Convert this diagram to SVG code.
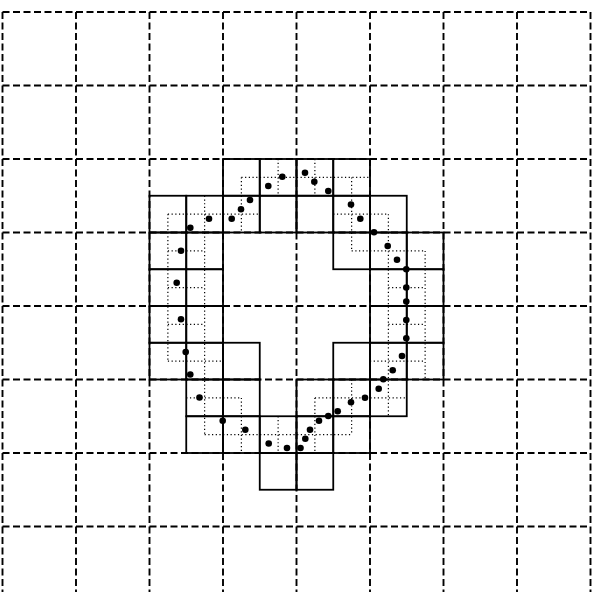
<svg xmlns="http://www.w3.org/2000/svg" width="597" height="592" viewBox="0 0 597 592">
<style>
.grid{stroke:#000;stroke-width:1.9;stroke-dasharray:7 3.5;fill:none}
.cell{stroke:#000;stroke-width:1.8;fill:none}
.sub{stroke:#000;stroke-width:1.2;stroke-dasharray:1.2 2.5;fill:none}
.pt{fill:#000}
</style>
<rect width="597" height="592" fill="#fff"/>
<g id="grid" class="grid">
<path d="M2.5 12V592M76 12V592M149.5 12V592M223 12V592M296.5 12V592M370 12V592M443.5 12V592M517 12V592M590.5 12V592"/>
<path d="M2.5 12H590.5M2.5 85.5H590.5M2.5 159H590.5M2.5 232.5H590.5M2.5 306H590.5M2.5 379.5H590.5M2.5 453H590.5M2.5 526.5H590.5"/>
</g>
<g id="cells" class="cell">
<rect x="223" y="159" width="36.75" height="36.75"/>
<rect x="259.75" y="159" width="36.75" height="36.75"/>
<rect x="296.5" y="159" width="36.75" height="36.75"/>
<rect x="333.25" y="159" width="36.75" height="36.75"/>
<rect x="149.5" y="195.75" width="36.75" height="36.75"/>
<rect x="186.25" y="195.75" width="36.75" height="36.75"/>
<rect x="223" y="195.75" width="36.75" height="36.75"/>
<rect x="259.75" y="195.75" width="36.75" height="36.75"/>
<rect x="296.5" y="195.75" width="36.75" height="36.75"/>
<rect x="333.25" y="195.75" width="36.75" height="36.75"/>
<rect x="370" y="195.75" width="36.75" height="36.75"/>
<rect x="149.5" y="232.5" width="36.75" height="36.75"/>
<rect x="186.25" y="232.5" width="36.75" height="36.75"/>
<rect x="333.25" y="232.5" width="36.75" height="36.75"/>
<rect x="370" y="232.5" width="36.75" height="36.75"/>
<rect x="406.75" y="232.5" width="36.75" height="36.75"/>
<rect x="149.5" y="269.25" width="36.75" height="36.75"/>
<rect x="186.25" y="269.25" width="36.75" height="36.75"/>
<rect x="370" y="269.25" width="36.75" height="36.75"/>
<rect x="406.75" y="269.25" width="36.75" height="36.75"/>
<rect x="149.5" y="306" width="36.75" height="36.75"/>
<rect x="186.25" y="306" width="36.75" height="36.75"/>
<rect x="370" y="306" width="36.75" height="36.75"/>
<rect x="406.75" y="306" width="36.75" height="36.75"/>
<rect x="149.5" y="342.75" width="36.75" height="36.75"/>
<rect x="186.25" y="342.75" width="36.75" height="36.75"/>
<rect x="223" y="342.75" width="36.75" height="36.75"/>
<rect x="333.25" y="342.75" width="36.75" height="36.75"/>
<rect x="370" y="342.75" width="36.75" height="36.75"/>
<rect x="406.75" y="342.75" width="36.75" height="36.75"/>
<rect x="186.25" y="379.5" width="36.75" height="36.75"/>
<rect x="223" y="379.5" width="36.75" height="36.75"/>
<rect x="296.5" y="379.5" width="36.75" height="36.75"/>
<rect x="333.25" y="379.5" width="36.75" height="36.75"/>
<rect x="370" y="379.5" width="36.75" height="36.75"/>
<rect x="186.25" y="416.25" width="36.75" height="36.75"/>
<rect x="223" y="416.25" width="36.75" height="36.75"/>
<rect x="259.75" y="416.25" width="36.75" height="36.75"/>
<rect x="296.5" y="416.25" width="36.75" height="36.75"/>
<rect x="333.25" y="416.25" width="36.75" height="36.75"/>
<rect x="259.75" y="453" width="36.75" height="36.75"/>
<rect x="296.5" y="453" width="36.75" height="36.75"/>
</g>
<g id="subcells" class="sub">
<path d="M167.875 214.125V361.125M204.625 195.75V434.625M241.375 177.375V232.5M241.375 397.875V453M278.125 159V195.75M278.125 416.25V453M314.875 159V195.75M314.875 397.875V453M351.625 177.375V250.875M351.625 379.5V434.625M388.375 214.125V416.25M425.125 250.875V379.5"/>
<path d="M241.375 177.375H370M167.875 214.125H259.75M333.25 214.125H388.375M167.875 250.875H204.625M351.625 250.875H425.125M167.875 287.625H204.625M388.375 287.625H425.125M167.875 324.375H204.625M388.375 324.375H425.125M167.875 361.125H223M370 361.125H425.125M186.25 397.875H241.375M314.875 397.875H406.75M204.625 434.625H351.625"/>
</g>
<g id="points" class="pt">
<circle cx="282.3" cy="176.7" r="3.3"/>
<circle cx="268.3" cy="186" r="3.3"/>
<circle cx="305" cy="172.7" r="3.3"/>
<circle cx="314.3" cy="181.7" r="3.3"/>
<circle cx="328.3" cy="191" r="3.3"/>
<circle cx="250" cy="200" r="3.3"/>
<circle cx="241" cy="209.3" r="3.3"/>
<circle cx="231.7" cy="218.7" r="3.3"/>
<circle cx="209" cy="218.7" r="3.3"/>
<circle cx="190.3" cy="227.7" r="3.3"/>
<circle cx="181" cy="250.7" r="3.3"/>
<circle cx="176.7" cy="282.7" r="3.3"/>
<circle cx="181" cy="319.3" r="3.3"/>
<circle cx="185.7" cy="352" r="3.3"/>
<circle cx="190.3" cy="374.5" r="3.3"/>
<circle cx="199.5" cy="397.5" r="3.3"/>
<circle cx="222.7" cy="420.7" r="3.3"/>
<circle cx="245.3" cy="429.8" r="3.3"/>
<circle cx="268.7" cy="443.5" r="3.3"/>
<circle cx="287" cy="448" r="3.3"/>
<circle cx="300.5" cy="448" r="3.3"/>
<circle cx="305.3" cy="438.8" r="3.3"/>
<circle cx="310" cy="429.7" r="3.3"/>
<circle cx="319" cy="420.7" r="3.3"/>
<circle cx="328.3" cy="416" r="3.3"/>
<circle cx="337.7" cy="411.3" r="3.3"/>
<circle cx="351" cy="402.3" r="3.3"/>
<circle cx="365" cy="397.7" r="3.3"/>
<circle cx="378.7" cy="388.7" r="3.3"/>
<circle cx="383.3" cy="379.3" r="3.3"/>
<circle cx="392.7" cy="370.3" r="3.3"/>
<circle cx="402" cy="356" r="3.3"/>
<circle cx="406.3" cy="338.3" r="3.3"/>
<circle cx="406.3" cy="320" r="3.3"/>
<circle cx="406.3" cy="301.5" r="3.3"/>
<circle cx="406.3" cy="287.5" r="3.3"/>
<circle cx="406.3" cy="269.2" r="3.3"/>
<circle cx="397" cy="259.8" r="3.3"/>
<circle cx="387.7" cy="246" r="3.3"/>
<circle cx="374" cy="232.2" r="3.3"/>
<circle cx="360.3" cy="218.7" r="3.3"/>
<circle cx="351" cy="204.5" r="3.3"/>
</g>
</svg>
